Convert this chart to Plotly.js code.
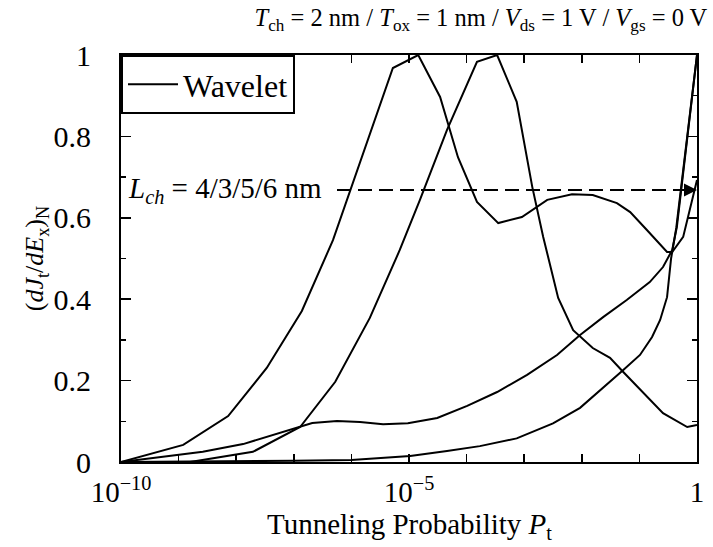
<!DOCTYPE html>
<html>
<head>
<meta charset="utf-8">
<script src="https://cdn.plot.ly/plotly-3.0.1.min.js"></script>
<style>html,body{margin:0;padding:0;background:#fff;}#chart{width:713px;height:547px;}</style>
</head>
<body>
<div id="chart"></div>
<script>
// log10 of tunneling probability and normalized dJt/dEx for each channel length curve
const logP_A = [-10, -8.92, -8.14, -7.47, -6.86, -6.32, -5.28, -4.84, -4.46, -4.15, -3.82, -3.45, -3.04, -2.60, -2.17, -1.81, -1.39, -1.16, -0.87, -0.52, -0.43, -0.24, 0];
const val_A  = [0, 0.042, 0.113, 0.231, 0.371, 0.545, 0.968, 1.0, 0.897, 0.749, 0.639, 0.587, 0.602, 0.644, 0.658, 0.656, 0.636, 0.614, 0.570, 0.516, 0.516, 0.553, 0.693];

const logP_B = [-10, -8.80, -7.71, -6.89, -6.28, -5.68, -5.16, -4.81, -4.34, -3.82, -3.47, -3.13, -2.86, -2.67, -2.41, -2.15, -1.81, -1.51, -1.28, -0.94, -0.59, -0.17, 0];
const val_B  = [0, 0, 0.025, 0.086, 0.197, 0.354, 0.521, 0.644, 0.816, 0.983, 1.0, 0.885, 0.676, 0.553, 0.403, 0.324, 0.280, 0.256, 0.221, 0.170, 0.120, 0.086, 0.091];

const logP_C = [-10, -8.58, -7.88, -6.94, -6.68, -6.25, -5.85, -5.45, -5.02, -4.51, -3.99, -3.47, -2.95, -2.43, -2.03, -1.63, -1.22, -0.82, -0.59, -0.43, -0.35, 0];
const val_C  = [0, 0.025, 0.044, 0.086, 0.096, 0.101, 0.098, 0.093, 0.095, 0.108, 0.138, 0.172, 0.214, 0.263, 0.312, 0.356, 0.398, 0.442, 0.479, 0.521, 0.577, 1.0];

const logP_D = [-10, -8, -7, -6, -5.50, -4.98, -4.34, -3.77, -3.13, -2.50, -2.03, -1.56, -1.28, -0.99, -0.78, -0.64, -0.52, -0.45, -0.36, 0];
const val_D  = [0, 0.001, 0.003, 0.005, 0.009, 0.015, 0.027, 0.039, 0.058, 0.095, 0.133, 0.190, 0.226, 0.263, 0.307, 0.349, 0.405, 0.500, 0.575, 1.0];

const xTickVals = [1e-10,1e-9,1e-8,1e-7,1e-6,1e-5,1e-4,1e-3,1e-2,1e-1,1];
const xTickText = ['10<sup>−10</sup>','','','','','10<sup>−5</sup>','','','','','1'];
const seriesName = 'Wavelet';
const annotText = '<i>L<sub>ch</sub></i> = 4/3/5/6 nm';
const xTitleText = 'Tunneling Probability <i>P</i><sub>t</sub>';
const annotLevel = 0.668;

const FONT = 'Liberation Serif, serif';
const curves = [[logP_A,val_A],[logP_B,val_B],[logP_C,val_C],[logP_D,val_D]];
const traces = curves.map((c,i)=>({
  x: c[0].map(v=>Math.pow(10,v)), y: c[1], type:'scatter', mode:'lines',
  name: seriesName, showlegend: i===0, legendgroup:'w',
  line:{color:'#000', width:2}
}));

const layout = {
  width:713, height:547,
  margin:{l:121, r:16, t:55, b:85},
  paper_bgcolor:'#fff', plot_bgcolor:'#fff',
  font:{family:FONT, color:'#000', size:28},
  title:{text:'<i>T</i><sub>ch</sub> = 2 nm / <i>T</i><sub>ox</sub> = 1 nm / <i>V</i><sub>ds</sub> = 1 V / <i>V</i><sub>gs</sub> = 0 V',
    font:{family:FONT, size:24.5, color:'#000'}, xref:'container', x:0.992, xanchor:'right', yref:'container', y:0.984, yanchor:'top'},
  xaxis:{type:'log', range:[-10,0], tickmode:'array', tickvals:xTickVals, ticktext:xTickText,
    ticks:'inside', ticklen:8, tickwidth:1.5, tickcolor:'#000',
    showline:true, linewidth:2, linecolor:'#000', mirror:'allticks', showgrid:false, zeroline:false,
    tickfont:{family:FONT, size:29}, ticklabelstandoff:3},
  yaxis:{range:[0,1], dtick:0.2, ticks:'inside', ticklen:10, tickwidth:1.5, tickcolor:'#000',
    minor:{dtick:0.1, ticks:'inside', ticklen:5, tickwidth:1.5, tickcolor:'#000'},
    showline:true, linewidth:2, linecolor:'#000', mirror:'allticks', showgrid:false, zeroline:false,
    tickfont:{family:FONT, size:30}, ticklabelstandoff:22,
    title:{text:'(<i>dJ</i><sub>t</sub>/<i>dE</i><sub>x</sub>)<sub>N</sub>', font:{family:FONT, size:26}, standoff:2}},
  legend:{x:0, y:1, xanchor:'left', yanchor:'top', bgcolor:'#fff', bordercolor:'#000', borderwidth:2,
    font:{family:FONT, size:32}, itemwidth:50},
  shapes:[{type:'line', xref:'paper', yref:'y', x0:0.375, x1:0.985, y0:annotLevel, y1:annotLevel,
    line:{color:'#000', width:2, dash:'14px,7px'}}],
  annotations:[
    {xref:'paper', yref:'y', x:0.008, y:annotLevel, xanchor:'left', yanchor:'middle', text:annotText,
     showarrow:false, font:{family:FONT, size:29}},
    {xref:'paper', yref:'y', x:1, y:annotLevel, text:'', showarrow:true, ax:-24, ay:0,
     arrowhead:2, arrowsize:1.3, arrowwidth:2, arrowcolor:'#000'},
    {xref:'paper', yref:'paper', x:0.5, y:-0.158, xanchor:'center', yanchor:'middle', text:xTitleText,
     showarrow:false, font:{family:FONT, size:29}}
  ]
};
Plotly.newPlot('chart', traces, layout, {staticPlot:true, displayModeBar:false});
</script>
</body>
</html>
